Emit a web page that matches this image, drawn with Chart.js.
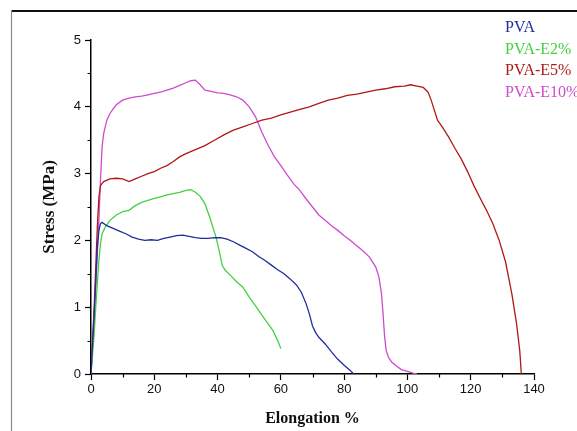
<!DOCTYPE html>
<html>
<head>
<meta charset="utf-8">
<script src="https://cdn.jsdelivr.net/npm/chart.js@4.4.1/dist/chart.umd.min.js"></script>
<style>
html,body{margin:0;padding:0;background:#fff;}
canvas{display:block;}
</style>
</head>
<body>
<canvas id="c" width="577" height="431"></canvas>
<script>
// ---- data ----
const seriesNames = ['PVA', 'PVA-E2%', 'PVA-E5%', 'PVA-E10%'];
const seriesColors = ['#1f2e9c', '#44d044', '#b01818', '#cc4ccc'];

const pvaX = [0,0.5,1,1.5,2,2.5,3,3.5,5,7,9,11,13,15,17,19,21,23,25,27,29,31,33,35,37,39,41,43,45,47,49,51,53,55,57,59,61,63,65,66.5,68,69,70,71,72,74,76,78,80,82,83];
const pvaY = [0,0.45,0.9,1.4,1.9,2.15,2.25,2.27,2.22,2.18,2.14,2.1,2.05,2.02,2.0,2.01,2.0,2.03,2.05,2.07,2.08,2.06,2.04,2.03,2.03,2.04,2.04,2.02,1.98,1.93,1.88,1.83,1.76,1.7,1.63,1.56,1.5,1.42,1.33,1.22,1.05,0.9,0.72,0.62,0.55,0.45,0.33,0.22,0.13,0.05,0];

const e2X = [0,0.5,1,1.5,2,2.5,3,3.5,4.5,6,8,10,12,14,16,18,20,22,24,26,28,30,31.5,33,34.5,36,37.5,38.5,39.5,40.5,41.5,42.5,44,46,48,50,52,54,56,57.5,59,60];
const e2Y = [0,0.3,0.6,1.0,1.35,1.7,1.95,2.1,2.2,2.3,2.38,2.43,2.45,2.52,2.57,2.6,2.63,2.65,2.68,2.7,2.72,2.75,2.76,2.72,2.66,2.55,2.35,2.2,2.05,1.85,1.62,1.55,1.48,1.38,1.3,1.15,1.02,0.88,0.75,0.65,0.5,0.38];

const e5X = [0,0.5,1,1.5,2,2.5,3,4,6,8,10,12,14,16,18,20,22,24,26,28,30,33,36,39,42,45,48,51,54,57,60,63,66,69,72,75,78,81,84,87,90,93,96,99,101,103,105,106.5,107.5,108.5,109.5,111,113,115,117,119,121,123,125,127,129,131,133,134.5,135.5,136];
const e5Y = [0,0.5,1.0,1.6,2.2,2.65,2.82,2.88,2.92,2.93,2.92,2.88,2.92,2.96,3.0,3.03,3.08,3.12,3.18,3.25,3.3,3.36,3.42,3.5,3.58,3.65,3.7,3.75,3.8,3.83,3.88,3.92,3.96,4.0,4.05,4.1,4.13,4.17,4.19,4.22,4.25,4.27,4.3,4.31,4.33,4.31,4.29,4.22,4.1,3.95,3.8,3.7,3.55,3.38,3.22,3.03,2.82,2.63,2.45,2.25,2.0,1.68,1.2,0.75,0.35,0];

const e10X = [0,0.5,1,1.5,2,2.5,3,3.5,4,5,6,7,8,10,12,14,16,18,20,22,24,26,28,30,31.5,33,34.5,36,38,40,42,44,46,48,50,52,54,56,58,60,62,64,66,68,70,72,74,76,78,80,82,84,86,88,90,91,91.8,92.3,92.8,93.3,94,95,96.5,98,100,102,103];
const e10Y = [0,0.4,0.8,1.3,1.8,2.3,2.9,3.4,3.6,3.8,3.9,3.97,4.03,4.1,4.13,4.15,4.16,4.18,4.2,4.22,4.25,4.28,4.32,4.36,4.39,4.4,4.33,4.25,4.23,4.21,4.2,4.18,4.15,4.1,4.0,3.85,3.62,3.42,3.25,3.12,2.98,2.85,2.75,2.62,2.5,2.38,2.3,2.22,2.15,2.07,2.0,1.92,1.84,1.75,1.6,1.45,1.2,0.9,0.55,0.35,0.25,0.18,0.12,0.07,0.04,0.01,0];

const xTicks = [0,20,40,60,80,100,120,140];
const xMinorTicks = [10,30,50,70,90,110,130];
const yTicks = [0,1,2,3,4,5];
const yMinorTicks = [0.5,1.5,2.5,3.5,4.5];

const xsAll = [pvaX, e2X, e5X, e10X];
const ysAll = [pvaY, e2Y, e5Y, e10Y];

const datasets = seriesNames.map((name, i) => ({
  label: name,
  data: xsAll[i].map((x, k) => ({x: x, y: ysAll[i][k]})),
  borderColor: seriesColors[i],
  backgroundColor: seriesColors[i],
  borderWidth: 1.3,
  pointRadius: 0,
  showLine: true,
  fill: false,
  tension: 0
}));

const extras = {
  id: 'extras',
  beforeDraw(chart) {
    const c = chart.ctx;
    c.save();
    c.fillStyle = '#fff';
    c.fillRect(0, 0, chart.width, chart.height);
    c.restore();
  },
  afterDraw(chart) {
    const c = chart.ctx;
    const xs = chart.scales.x, ys = chart.scales.y;
    const area = chart.chartArea;
    c.save();
    // minor ticks
    c.strokeStyle = '#000';
    c.lineWidth = 1.2;
    c.beginPath();
    yMinorTicks.forEach(v => {
      const py = Math.round(ys.getPixelForValue(v)) + 0.5;
      c.moveTo(area.left - 3.5, py); c.lineTo(area.left, py);
    });
    xMinorTicks.forEach(v => {
      const px = Math.round(xs.getPixelForValue(v)) + 0.5;
      c.moveTo(px, area.bottom); c.lineTo(px, area.bottom + 3.5);
    });
    c.stroke();
    // legend text
    c.font = '16px "Liberation Serif", "Times New Roman", serif';
    c.textAlign = 'left';
    c.textBaseline = 'alphabetic';
    chart.data.datasets.forEach((ds, i) => {
      c.fillStyle = ds.borderColor;
      c.fillText(ds.label, 505, 32 + i * 21.5);
    });
    // frame
    c.strokeStyle = '#111';
    c.lineWidth = 2;
    c.beginPath(); c.moveTo(11, 11); c.lineTo(chart.width, 11); c.stroke();
    c.strokeStyle = '#8a8a8a';
    c.lineWidth = 1.2;
    c.beginPath(); c.moveTo(11.5, 10); c.lineTo(11.5, chart.height); c.stroke();
    c.restore();
  }
};

new Chart(document.getElementById('c'), {
  type: 'scatter',
  data: { datasets },
  options: {
    responsive: false,
    animation: false,
    devicePixelRatio: 1,
    layout: { padding: { left: 0, top: 40, right: 43, bottom: 0 } },
    plugins: { legend: { display: false }, tooltip: { enabled: false } },
    scales: {
      x: {
        type: 'linear', min: 0, max: 140,
        afterBuildTicks: s => { s.ticks = xTicks.map(v => ({value: v})); },
        afterFit: s => { s.height = 57; },
        border: { color: '#000', width: 1.5 },
        grid: { drawOnChartArea: false, tickLength: 6, color: '#000', tickWidth: 1.2 },
        ticks: { color: '#111', padding: 2, maxRotation: 0,
                 font: { family: '"Liberation Sans", Arial, sans-serif', size: 13 } },
        title: { display: true, text: 'Elongation %', color: '#111',
                 font: { family: '"Liberation Serif", "Times New Roman", serif', size: 16, weight: 'bold' },
                 padding: { top: 0, bottom: 3 } }
      },
      y: {
        type: 'linear', min: 0, max: 5,
        afterBuildTicks: s => { s.ticks = yTicks.map(v => ({value: v})); },
        afterFit: s => { s.width = 91; },
        border: { color: '#000', width: 1.5 },
        grid: { drawOnChartArea: false, tickLength: 6, color: '#000', tickWidth: 1.2 },
        ticks: { color: '#111', padding: 4,
                 font: { family: '"Liberation Sans", Arial, sans-serif', size: 13 } },
        title: { display: true, text: 'Stress (MPa)', color: '#111',
                 font: { family: '"Liberation Serif", "Times New Roman", serif', size: 17, weight: 'bold' },
                 padding: { top: 39, bottom: 0 } }
      }
    }
  },
  plugins: [extras]
});
</script>
</body>
</html>
